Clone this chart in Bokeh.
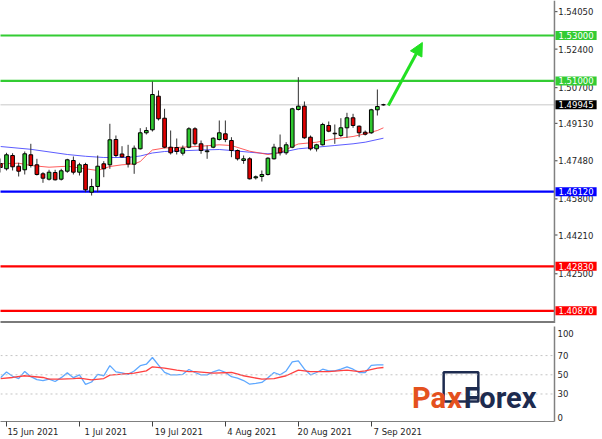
from bokeh.plotting import figure
from bokeh.layouts import column
from bokeh.models import (Range1d, FixedTicker, Span, Label, Arrow, NormalHead,
                          ColumnDataSource)
from bokeh.core.properties import value
from bokeh.embed import file_html
from bokeh.resources import INLINE

# ---------------- data ----------------
bars = list(range(-1, 63))
opens = [1.47360, 1.47127, 1.47713, 1.47241, 1.47083, 1.47744, 1.47303, 1.46906, 1.46669, 1.46964,
         1.46669, 1.47021, 1.47493, 1.46977, 1.47316, 1.46096, 1.46347, 1.47347, 1.47303, 1.48418,
         1.47779, 1.47669, 1.47330, 1.48008, 1.48713, 1.48845, 1.50326, 1.49356, 1.48079, 1.48065,
         1.47814, 1.48079, 1.48889, 1.48228, 1.47880, 1.48079, 1.48418, 1.48669, 1.48374, 1.47933,
         1.47493, 1.47567, 1.46730, 1.46788, 1.46876, 1.47567, 1.48052, 1.47832, 1.48079, 1.49740,
         1.49885, 1.48519, 1.48008, 1.48184, 1.49035, 1.48695, 1.48594, 1.48933, 1.49374, 1.49004,
         1.48739, 1.48713, 1.49726, 1.49950]
highs = [1.47581, 1.47832, 1.47814, 1.47391, 1.47889, 1.48228, 1.47567, 1.46977, 1.47083, 1.47083,
         1.47127, 1.47567, 1.47669, 1.47391, 1.47391, 1.46686, 1.47713, 1.47462, 1.49110, 1.48594,
         1.48123, 1.48184, 1.48153, 1.48916, 1.48960, 1.50973, 1.50577, 1.49770, 1.48814, 1.48462,
         1.48153, 1.48960, 1.48960, 1.48374, 1.48153, 1.48519, 1.49255, 1.49255, 1.48519, 1.47977,
         1.47713, 1.47638, 1.46832, 1.47052, 1.47638, 1.48228, 1.48638, 1.48299, 1.49814, 1.51163,
         1.50092, 1.48594, 1.48228, 1.49154, 1.49211, 1.49079, 1.49356, 1.49594, 1.49550, 1.49035,
         1.48814, 1.49770, 1.50621, 1.49990]
lows = [1.46964, 1.47052, 1.47052, 1.46788, 1.46876, 1.47184, 1.46832, 1.46510, 1.46611, 1.46611,
        1.46611, 1.46951, 1.46876, 1.46832, 1.46096, 1.45950, 1.46096, 1.46757, 1.47127, 1.47638,
        1.47625, 1.47184, 1.46906, 1.47977, 1.48638, 1.48770, 1.49255, 1.48034, 1.47757, 1.47757,
        1.47713, 1.48034, 1.48153, 1.47788, 1.47567, 1.48034, 1.48374, 1.48299, 1.47638, 1.47493,
        1.47347, 1.46655, 1.46655, 1.46567, 1.46832, 1.47537, 1.47713, 1.47744, 1.48034, 1.49696,
        1.48449, 1.47933, 1.47889, 1.48153, 1.48739, 1.48228, 1.48519, 1.48493, 1.48933, 1.48519,
        1.48594, 1.48669, 1.49475, 1.49910]
closes = [1.47184, 1.47744, 1.47215, 1.47021, 1.47788, 1.47272, 1.46876, 1.46713, 1.46977, 1.46642,
          1.47039, 1.47523, 1.46977, 1.47303, 1.46202, 1.46347, 1.47241, 1.47127, 1.48405, 1.47713,
          1.47647, 1.47338, 1.48034, 1.48713, 1.48814, 1.50400, 1.49330, 1.48079, 1.47832, 1.47889,
          1.48034, 1.48889, 1.48228, 1.47933, 1.47916, 1.48475, 1.48713, 1.48418, 1.47933, 1.47567,
          1.47567, 1.46686, 1.46774, 1.46876, 1.47594, 1.48079, 1.47832, 1.48184, 1.49770, 1.49885,
          1.48493, 1.48008, 1.48184, 1.49079, 1.48784, 1.48669, 1.48933, 1.49374, 1.49035, 1.48713,
          1.48651, 1.49726, 1.49872, 1.49945]

ma_fast_bar = [-1, 2, 4, 7, 10, 13, 15, 17, 19, 21, 22, 23, 24, 26, 29, 32, 35, 37, 40, 43, 45,
               47, 48, 51, 54, 57, 59, 61, 62]
ma_fast_val = [1.47347, 1.47374, 1.47272, 1.47197, 1.47241, 1.47127, 1.47052, 1.47228, 1.47303,
               1.47338, 1.47448, 1.47713, 1.47955, 1.48043, 1.48079, 1.48123, 1.48184, 1.48153,
               1.47902, 1.47757, 1.47832, 1.48109, 1.48220, 1.48299, 1.48449, 1.48550, 1.48669,
               1.48814, 1.48933]
ma_slow_bar = [-1, 4, 10, 13, 16, 20, 22, 24, 26, 32, 35, 37, 40, 43, 45, 48, 51, 54, 57, 59, 62]
ma_slow_val = [1.48109, 1.47986, 1.47757, 1.47678, 1.47625, 1.47625, 1.47691, 1.47823, 1.47889,
               1.47955, 1.47977, 1.47933, 1.47858, 1.47788, 1.47832, 1.48008, 1.48079, 1.48153,
               1.48228, 1.48299, 1.48475]

rsi = [47, 53, 48.5, 46, 53.5, 48, 45, 44, 45.5, 43, 47, 52, 47, 50, 40, 42.5, 50.5, 49, 59.5, 53,
       52, 50.5, 54, 59.5, 61, 68, 60, 52.5, 50, 50, 50.5, 55.5, 52.4, 50, 50, 53, 55, 52.5, 48,
       46.5, 44, 40.2, 41, 42, 47, 52.4, 50, 54, 63.5, 64.5, 55.8, 50, 52.4, 55.8, 54, 54, 56, 58.3,
       55.8, 52.4, 52.4, 59.8, 60.4, 60.4]
sig_bar = [-1, 1, 3, 6, 7, 9, 11, 12, 14, 16, 17, 19, 21, 23, 24, 26, 28, 30, 31, 34, 37, 39, 42,
           44, 46, 48, 50, 53, 56, 58, 59, 61, 62]
sig_val = [46.1, 47.2, 49, 47.2, 45.4, 45.4, 46.1, 46.5, 44.8, 46.1, 49.6, 50.6, 51.7, 54.1, 58.3,
           56.9, 54.8, 53.4, 53.4, 51.7, 52.4, 49, 45.4, 46.1, 49, 54.8, 53.4, 53.4, 54.8, 53.4,
           54.1, 56.9, 57.6]

date_bars = [0, 12, 24, 36, 48, 60]
date_labels = ["15 Jun 2021", "1 Jul 2021", "19 Jul 2021", "4 Aug 2021", "20 Aug 2021", "7 Sep 2021"]
price_ticks = [1.54050, 1.52400, 1.50700, 1.49130, 1.47480, 1.45800, 1.44210, 1.42500]
level_prices = [1.53000, 1.51000, 1.46120, 1.42830, 1.40870]
level_colors = ["#33cc33", "#33cc33", "#0000ff", "#ff0000", "#ff0000"]
current_price = 1.49945
arrow_from = (62.8, 1.49916)
arrow_to = (68.4, 1.52692)
rsi_levels = [70, 50, 30]
rsi_tick_pos = [93.5, 70, 50, 30, 6]
rsi_tick_txt = ["100", "70", "50", "30", "0"]

# ---------------- layout / styling ----------------
FONT = "DejaVu Sans"
FS = "8.5px"
TXT = "#1e1e1e"
UP = "#2fc82f"
DOWN = "#e00000"
AXIS_X = 90.13          # bar position of the price-axis line
X0 = -0.987             # left edge of the chart (bars)
PRICE_LO, PRICE_HI = 1.403107, 1.545421

src = ColumnDataSource(dict(
    bar=bars, open=opens, high=highs, low=lows, close=closes,
    top=[max(o, c) for o, c in zip(opens, closes)],
    bottom=[min(o, c) for o, c in zip(opens, closes)],
    color=[UP if c > o else DOWN for o, c in zip(opens, closes)],
))

# price panel: frame covers the whole width, the price scale is drawn at AXIS_X
p = figure(x_range=Range1d(X0, 98.03), y_range=Range1d(PRICE_LO, PRICE_HI),
           frame_width=602, frame_height=323, output_backend="svg", toolbar_location=None,
           x_axis_location=None, y_axis_location=None,
           min_border_left=0, min_border_top=0, min_border_bottom=0, min_border_right=0)
p.outline_line_color = None
p.xgrid.visible = False
p.ygrid.visible = False
p.background_fill_color = "white"
p.border_fill_color = "white"

n_lv = len(level_prices)
# current price line and level lines (end at the price scale)
p.segment(x0=[X0 - 2], x1=[AXIS_X], y0=[current_price], y1=[current_price],
          line_color="#c8c8c8", line_width=1)
p.segment(x0=[X0 - 2] * n_lv, x1=[AXIS_X] * n_lv, y0=level_prices, y1=level_prices,
          line_color=level_colors, line_width=2.2)

# moving averages
p.line(ma_slow_bar, ma_slow_val, line_color="#4040ff", line_width=1, line_alpha=0.85)
p.line(ma_fast_bar, ma_fast_val, line_color="#ff4040", line_width=1, line_alpha=0.85)

# candles
p.segment(x0="bar", y0="low", x1="bar", y1="high", source=src, line_color="#303030", line_width=1)
p.vbar(x="bar", width=0.6, top="top", bottom="bottom", source=src, fill_color="color",
       line_color="black", line_width=1)

# arrow
p.add_layout(Arrow(end=NormalHead(size=13, fill_color="#22e022", line_color="#22e022"),
                   x_start=arrow_from[0], y_start=arrow_from[1],
                   x_end=arrow_to[0], y_end=arrow_to[1],
                   line_color="#22e022", line_width=3))

# separator between the panels
p.segment(x0=[X0 - 2], x1=[AXIS_X], y0=[PRICE_LO], y1=[PRICE_LO], line_color="#7a7a7a",
          line_width=5)

# price scale: axis line, ticks, tick labels
p.add_layout(Span(location=AXIS_X, dimension="height", line_color="#808080", line_width=1.5))
n_t = len(price_ticks)
p.segment(x0=[AXIS_X] * n_t, x1=[AXIS_X + 0.5] * n_t, y0=price_ticks, y1=price_ticks,
          line_color="#404040", line_width=1)
p.text(x=[AXIS_X + 0.62] * n_t, y=price_ticks, text=[f"{t:.5f}" for t in price_ticks],
       text_font=value(FONT), text_font_size=value(FS), text_color=TXT,
       text_align="left", text_baseline="middle")

# coloured price labels
for lv, lc in zip(level_prices, level_colors):
    p.add_layout(Label(x=AXIS_X, y=lv, x_offset=1, text=f"{lv:.5f}", text_color="white",
                       text_font=FONT, text_font_size=FS, text_align="left",
                       text_baseline="middle", background_fill_color=lc, padding=(3, 1)))
p.add_layout(Label(x=AXIS_X, y=current_price, x_offset=1, text=f"{current_price:.5f}",
                   text_color="white", text_font=FONT, text_font_size=FS, text_align="left",
                   text_baseline="middle", background_fill_color="black", padding=(3, 1)))

# ---------------- RSI panel ----------------
r = figure(x_range=Range1d(X0, AXIS_X), y_range=Range1d(1.35, 100.3),
           frame_width=554, frame_height=95, output_backend="svg", toolbar_location=None,
           y_axis_location="right", min_border_left=0, min_border_top=3,
           min_border_bottom=0, min_border_right=48)
r.outline_line_color = None
r.xgrid.visible = False
r.ygrid.visible = False
r.border_fill_color = "white"

ry = r.yaxis[0]
ry.ticker = FixedTicker(ticks=rsi_tick_pos)
ry.major_label_overrides = {pos: txt for pos, txt in zip(rsi_tick_pos, rsi_tick_txt)}
ry.major_label_text_font = FONT
ry.major_label_text_font_size = FS
ry.major_label_text_color = TXT
ry.major_tick_line_color = None
ry.major_tick_out = 0
ry.major_tick_in = 0
ry.minor_tick_line_color = None
ry.axis_line_color = "#808080"
ry.axis_line_width = 1.5
ry.major_label_standoff = 3

LABEL_SHIFT = 4.35
rx = r.xaxis[0]
label_pos = [b + LABEL_SHIFT for b in date_bars]
rx.ticker = FixedTicker(ticks=label_pos, minor_ticks=date_bars)
rx.major_label_overrides = {pos: txt for pos, txt in zip(label_pos, date_labels)}
rx.major_tick_line_color = None
rx.major_tick_out = 0
rx.major_tick_in = 0
rx.minor_tick_line_color = "#404040"
rx.minor_tick_out = 5
rx.minor_tick_in = 0
rx.major_label_text_font = FONT
rx.major_label_text_font_size = FS
rx.major_label_text_color = TXT
rx.axis_line_color = "#808080"
rx.major_label_standoff = 0

for lv in rsi_levels:
    r.add_layout(Span(location=lv, dimension="width", line_color="#c4c4c4", line_width=1,
                      line_dash="2 3"))

r.line(bars, rsi, line_color="#5ea8ff", line_width=1.3)
r.line(sig_bar, sig_val, line_color="#ff4040", line_width=1.3)

# watermark logo
LOGO_FONT = "Roboto"
r.quad(left=[71.9], right=[77.6], top=[52.7], bottom=[22.2], fill_color=None,
       line_color="#1d2b4f", line_width=2.5)
r.add_layout(Label(x=66.7, y=26, text="Pa", text_font=LOGO_FONT, text_font_style="bold",
                   text_font_size="29px", text_color="#e4511e", text_baseline="alphabetic"))
r.add_layout(Label(x=72.5, y=26, text="x", text_font=LOGO_FONT, text_font_style="bold",
                   text_font_size="29px", text_color="#e4511e", text_baseline="alphabetic"))
r.add_layout(Label(x=75.2, y=26, text="Forex", text_font=LOGO_FONT, text_font_style="bold",
                   text_font_size="29px", text_color="#1d2b4f", text_baseline="alphabetic"))

layout = column(p, r, spacing=0)
open("out.html", "w").write(file_html(layout, INLINE))
